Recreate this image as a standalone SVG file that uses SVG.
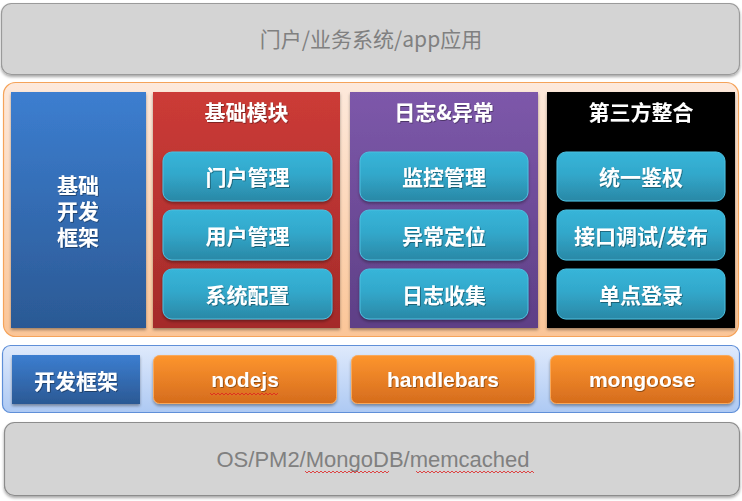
<svg xmlns="http://www.w3.org/2000/svg" width="742" height="501" viewBox="0 0 742 501">
<defs>
<linearGradient id="gBlue" x1="0" y1="0" x2="0" y2="1"><stop offset="0" stop-color="#3c7ed0"/><stop offset="1" stop-color="#2b5994"/></linearGradient>
<linearGradient id="gRed" x1="0" y1="0" x2="0" y2="1"><stop offset="0" stop-color="#cc3b37"/><stop offset="1" stop-color="#a42b29"/></linearGradient>
<linearGradient id="gPurple" x1="0" y1="0" x2="0" y2="1"><stop offset="0" stop-color="#7d58aa"/><stop offset="1" stop-color="#5e3f86"/></linearGradient>
<linearGradient id="gTeal" x1="0" y1="0" x2="0" y2="1"><stop offset="0" stop-color="#37b5d9"/><stop offset="0.45" stop-color="#32a8cb"/><stop offset="1" stop-color="#2a88a6"/></linearGradient>
<linearGradient id="gOrange" x1="0" y1="0" x2="0" y2="1"><stop offset="0" stop-color="#fd952e"/><stop offset="1" stop-color="#d56c1d"/></linearGradient>
<linearGradient id="gPeach" x1="0" y1="0" x2="0" y2="1"><stop offset="0" stop-color="#fde9dc"/><stop offset="1" stop-color="#fbc597"/></linearGradient>
<linearGradient id="gSky" x1="0" y1="0" x2="0" y2="1"><stop offset="0" stop-color="#dfeafc"/><stop offset="1" stop-color="#adc9f3"/></linearGradient>
<filter id="sh" x="-10%" y="-10%" width="120%" height="130%"><feDropShadow dx="0" dy="2" stdDeviation="1.5" flood-color="#000" flood-opacity="0.35"/></filter>
<filter id="tsh" x="-10%" y="-20%" width="120%" height="150%"><feDropShadow dx="0.8" dy="0.8" stdDeviation="0.4" flood-color="#000" flood-opacity="0.45"/></filter>
<style>
.cjk{font-family:"Noto Sans CJK SC","Liberation Sans",sans-serif;}
.w{fill:#fff;font-weight:bold;font-size:21px;text-anchor:middle;dominant-baseline:central;}
.lat{fill:#fff;font-weight:bold;font-size:21px;text-anchor:middle;font-family:"Liberation Sans","Noto Sans",sans-serif;}
.g{fill:#808080;font-size:21px;text-anchor:middle;}
.sub{fill:url(#gTeal);stroke:#4cc0e0;stroke-width:1;}
.org{fill:url(#gOrange);stroke:#f8a95b;stroke-width:1;}
.sq{fill:none;stroke:#e02020;stroke-width:0.8;}
</style>
</defs>

<g id="top-layer">
<rect x="1.5" y="3.5" width="738" height="71" rx="10" fill="#d4d4d4" stroke="#9a9a9a" stroke-width="1.2" filter="url(#sh)"/>
<text class="cjk g" x="371" y="47">门户/业务系统/app应用</text>
</g>

<g id="core-container">
<rect x="3.5" y="82.5" width="735" height="254" rx="12" fill="url(#gPeach)" stroke="#f5a35a" stroke-width="1.2"/>
</g>

<g id="base-framework">
<rect x="11" y="92" width="135" height="236" fill="url(#gBlue)" filter="url(#sh)"/>
<text class="cjk w" filter="url(#tsh)"><tspan x="78" y="184">基础</tspan><tspan x="78" y="210">开发</tspan><tspan x="78" y="236">框架</tspan></text>
</g>

<g id="basic-modules">
<rect x="153" y="92" width="187" height="236" fill="url(#gRed)" filter="url(#sh)"/>
<text class="cjk w" x="246.5" y="111" filter="url(#tsh)">基础模块</text>
<g id="portal-mgmt"><rect class="sub" x="163" y="152" width="169" height="49" rx="9" filter="url(#sh)"/><text class="cjk w" x="247.5" y="176" filter="url(#tsh)">门户管理</text></g>
<g id="user-mgmt"><rect class="sub" x="163" y="210" width="169" height="50" rx="9" filter="url(#sh)"/><text class="cjk w" x="247.5" y="235" filter="url(#tsh)">用户管理</text></g>
<g id="sys-config"><rect class="sub" x="163" y="269" width="169" height="50" rx="9" filter="url(#sh)"/><text class="cjk w" x="247.5" y="294" filter="url(#tsh)">系统配置</text></g>
</g>

<g id="log-exception">
<rect x="350" y="92" width="188" height="236" fill="url(#gPurple)" filter="url(#sh)"/>
<text class="cjk w" x="444" y="111" filter="url(#tsh)">日志&amp;异常</text>
<g id="monitor-mgmt"><rect class="sub" x="360" y="152" width="168" height="49" rx="9" filter="url(#sh)"/><text class="cjk w" x="444" y="176" filter="url(#tsh)">监控管理</text></g>
<g id="exception-locate"><rect class="sub" x="360" y="210" width="168" height="50" rx="9" filter="url(#sh)"/><text class="cjk w" x="444" y="235" filter="url(#tsh)">异常定位</text></g>
<g id="log-collect"><rect class="sub" x="360" y="269" width="168" height="50" rx="9" filter="url(#sh)"/><text class="cjk w" x="444" y="294" filter="url(#tsh)">日志收集</text></g>
</g>

<g id="third-party">
<rect x="547" y="92" width="188" height="236" fill="#000" filter="url(#sh)"/>
<text class="cjk w" x="641" y="111" filter="url(#tsh)">第三方整合</text>
<g id="unified-auth"><rect class="sub" x="557" y="152" width="168" height="49" rx="9" filter="url(#sh)"/><text class="cjk w" x="641" y="176" filter="url(#tsh)">统一鉴权</text></g>
<g id="api-debug"><rect class="sub" x="557" y="210" width="168" height="50" rx="9" filter="url(#sh)"/><text class="cjk w" x="641" y="235" filter="url(#tsh)">接口调试/发布</text></g>
<g id="sso"><rect class="sub" x="557" y="269" width="168" height="50" rx="9" filter="url(#sh)"/><text class="cjk w" x="641" y="294" filter="url(#tsh)">单点登录</text></g>
</g>

<g id="dev-framework-bar">
<rect x="2.5" y="345.5" width="737" height="67" rx="8" fill="url(#gSky)" stroke="#5f8fd8" stroke-width="1.2"/>
<g id="dev-framework"><rect x="12" y="355" width="128" height="49" fill="url(#gBlue)" filter="url(#sh)"/><text class="cjk w" x="76" y="380" filter="url(#tsh)">开发框架</text></g>
<g id="nodejs"><rect class="org" x="153.5" y="355.5" width="183" height="48" rx="6" filter="url(#sh)"/><text class="lat" x="245" y="387" filter="url(#tsh)">nodejs</text>
<path class="sq" d="M210 393 l2 2 l2 -2 l2 2 l2 -2 l2 2 l2 -2 l2 2 l2 -2 l2 2 l2 -2 l2 2 l2 -2 l2 2 l2 -2 l2 2 l2 -2 l2 2 l2 -2 l2 2 l2 -2 l2 2 l2 -2 l2 2 l2 -2 l2 2 l2 -2 l2 2 l2 -2 l2 2 l2 -2 l2 2 l2 -2 l2 2 l2 -2"/></g>
<g id="handlebars"><rect class="org" x="351.5" y="355.5" width="183" height="48" rx="6" filter="url(#sh)"/><text class="lat" x="443" y="387" filter="url(#tsh)">handlebars</text></g>
<g id="mongoose"><rect class="org" x="550.5" y="355.5" width="183" height="48" rx="6" filter="url(#sh)"/><text class="lat" x="642" y="387" filter="url(#tsh)">mongoose</text></g>
</g>

<g id="bottom-layer">
<rect x="4.5" y="422.5" width="735" height="73" rx="10" fill="#d4d4d4" stroke="#8c8c8c" stroke-width="1.2" filter="url(#sh)"/>
<text class="g" x="373" y="467" style="font-family:'Liberation Sans','Noto Sans',sans-serif;font-size:22px">OS/PM2/MongoDB/memcached</text>
<path class="sq" d="M305 471 l2 2 l2 -2 l2 2 l2 -2 l2 2 l2 -2 l2 2 l2 -2 l2 2 l2 -2 l2 2 l2 -2 l2 2 l2 -2 l2 2 l2 -2 l2 2 l2 -2 l2 2 l2 -2 l2 2 l2 -2 l2 2 l2 -2 l2 2 l2 -2 l2 2 l2 -2 l2 2 l2 -2 l2 2 l2 -2 l2 2 l2 -2 l2 2 l2 -2 l2 2 l2 -2 l2 2 l2 -2 l2 2 l2 -2"/>
<path class="sq" d="M416 471 l2 2 l2 -2 l2 2 l2 -2 l2 2 l2 -2 l2 2 l2 -2 l2 2 l2 -2 l2 2 l2 -2 l2 2 l2 -2 l2 2 l2 -2 l2 2 l2 -2 l2 2 l2 -2 l2 2 l2 -2 l2 2 l2 -2 l2 2 l2 -2 l2 2 l2 -2 l2 2 l2 -2 l2 2 l2 -2 l2 2 l2 -2 l2 2 l2 -2 l2 2 l2 -2 l2 2 l2 -2 l2 2 l2 -2 l2 2 l2 -2 l2 2 l2 -2 l2 2 l2 -2 l2 2 l2 -2 l2 2 l2 -2 l2 2 l2 -2 l2 2 l2 -2 l2 2 l2 -2 l2 2"/>
</g>
</svg>
